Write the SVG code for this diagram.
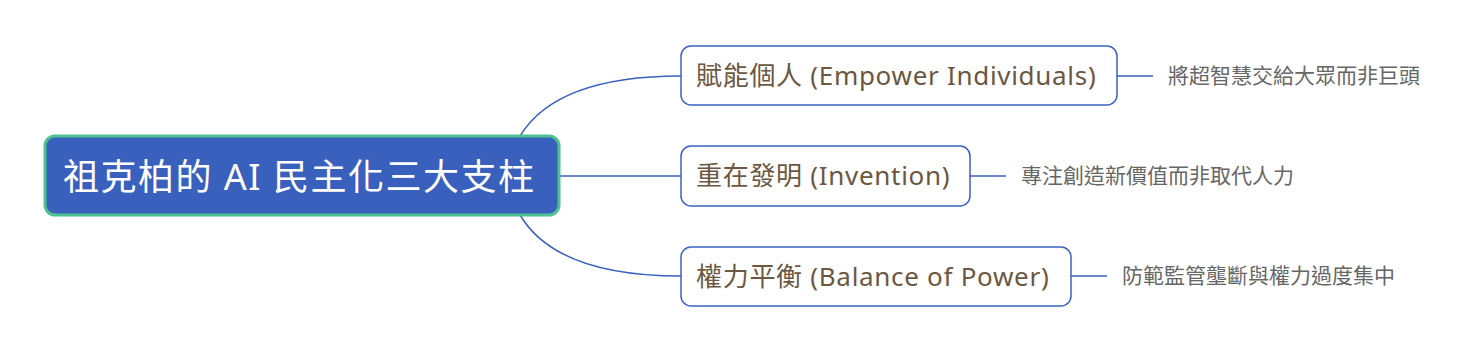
<svg xmlns="http://www.w3.org/2000/svg" width="1482" height="353" viewBox="0 0 1482 353">
<style>
.conn{fill:none;stroke:#3B62C1;stroke-width:1.5}
.root rect{fill:#3A60BE;stroke:#4DC18E;stroke-width:3}
.root text{fill:#FFFFFF;font-family:"Noto Sans","Noto Sans CJK TC",sans-serif;font-size:36px;letter-spacing:1.5px}
.main rect{fill:#FFFFFF;stroke:#3B62C1;stroke-width:1.5}
.main text{fill:#6B5742;font-family:"Noto Sans","Noto Sans CJK TC",sans-serif;font-size:26px;letter-spacing:0.7px}
.leaf text{fill:#666666;font-family:"Noto Sans","Noto Sans CJK TC",sans-serif;font-size:21px}
</style>
<rect width="1482" height="353" fill="#FFFFFF"/>
<g id="connectors">
<path class="conn" d="M520,136 C545,95 600,76 681,76"/>
<path class="conn" d="M559,176 L681,176"/>
<path class="conn" d="M520,215 C545,257 600,276 681,276"/>
<path class="conn" d="M1117,76 L1153,76"/>
<path class="conn" d="M970,176 L1006,176"/>
<path class="conn" d="M1071,276 L1107,276"/>
</g>
<g id="root" class="root">
<rect x="45" y="136" width="514" height="79" rx="10"/>
<text x="63" y="190">祖克柏的 AI 民主化三大支柱</text>
</g>
<g id="n1" class="main">
<rect x="681" y="46" width="436" height="59" rx="10"/>
<text x="696" y="85">賦能個人 (Empower Individuals)</text>
</g>
<g id="n2" class="main">
<rect x="681" y="146" width="289" height="60" rx="10"/>
<text x="696" y="185">重在發明 (Invention)</text>
</g>
<g id="n3" class="main">
<rect x="681" y="247" width="390" height="59" rx="10"/>
<text x="696" y="286">權力平衡 (Balance of Power)</text>
</g>
<g id="l1" class="leaf">
<text x="1168" y="83">將超智慧交給大眾而非巨頭</text>
</g>
<g id="l2" class="leaf">
<text x="1021" y="183">專注創造新價值而非取代人力</text>
</g>
<g id="l3" class="leaf">
<text x="1122" y="283">防範監管壟斷與權力過度集中</text>
</g>
</svg>
